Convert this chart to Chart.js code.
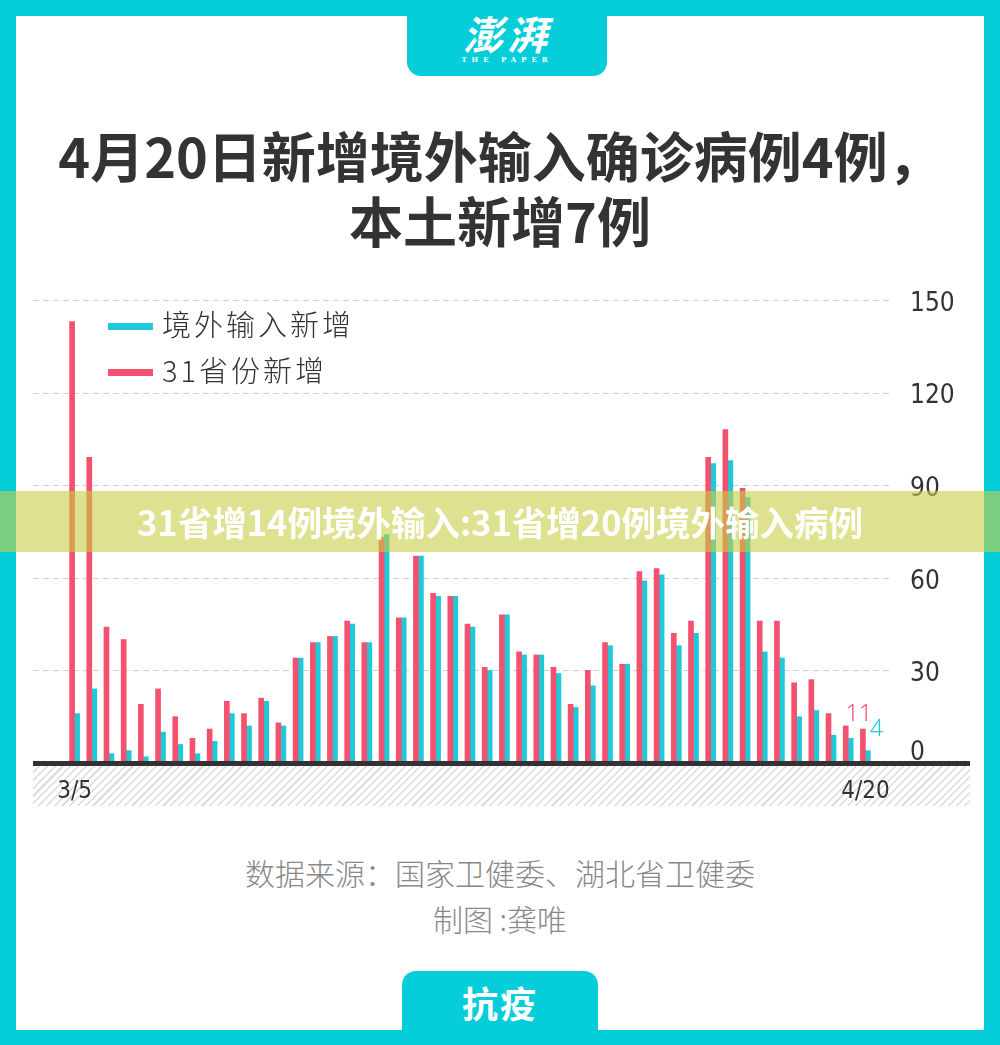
<!DOCTYPE html>
<html>
<head>
<meta charset="utf-8">
<script src="https://cdn.jsdelivr.net/npm/chart.js@4.4.1/dist/chart.umd.min.js"></script>
<style>
  body { margin:0; width:1000px; height:1045px; background:#05cdd9; position:relative; overflow:hidden; font-family:"Noto Sans CJK SC", sans-serif; }
  .card { position:absolute; left:16px; top:16px; width:968px; height:1014px; background:#fff; }
  .tabTop { position:absolute; left:407px; top:0; width:200px; height:76px; background:#05cdd9; border-radius:0 0 14px 14px; color:#fff; text-align:center; }
  .tabTop .logo { font-size:40px; font-weight:700; font-style:italic; line-height:46px; margin-top:10px; letter-spacing:4px; }
  .tabTop .sub { font-size:7px; font-weight:700; letter-spacing:5px; font-family:"DejaVu Serif", serif; line-height:8px; }
  .tabBot { position:absolute; left:402px; top:971px; width:196px; height:80px; background:#05cdd9; border-radius:14px 14px 0 0; color:#fff; text-align:center; font-size:36px; font-weight:700; line-height:62px; letter-spacing:2px; }
  .title { position:absolute; left:0; width:1000px; text-align:center; color:#333; font-weight:700; font-size:54px; line-height:64px; }
  .legend { position:absolute; left:108px; font-size:29px; font-weight:300; color:#333; letter-spacing:3px; line-height:34px; z-index:4; }
  .legend i { display:inline-block; width:45px; height:7px; vertical-align:middle; margin-right:9px; position:relative; top:-2px; }
  .hatch { position:absolute; left:33px; top:766px; width:937px; height:40px;
    background:repeating-linear-gradient(135deg, #fff 0px, #fff 4px, #dcdcdc 4px, #dcdcdc 5.5px); }
  .baseline { position:absolute; left:33px; top:761px; width:937px; height:5px; background:#333; z-index:3; }
  #wrap { position:absolute; left:33px; top:290px; width:937px; height:518px; z-index:2; }
  .foot { position:absolute; left:0; width:1000px; text-align:center; color:#888; font-size:30px; font-weight:300; }
  .banner { position:absolute; left:0; top:491px; width:1000px; height:61px; background:rgba(200,205,70,0.6); z-index:5; color:#fff; font-weight:700; font-size:34.5px; line-height:61px; text-align:center; }
</style>
</head>
<body>
<div class="card"></div>
<div class="tabTop"><div class="logo">澎湃</div><div class="sub">THE PAPER</div></div>
<div class="title" style="top:123px;">4月20日新增境外输入确诊病例4例，</div>
<div class="title" style="top:188px;">本土新增7例</div>
<div class="hatch"></div>
<div class="baseline"></div>
<div id="wrap"><canvas id="myChart"></canvas></div>
<div class="legend" style="top:306px;"><i style="background:#1ecad8"></i>境外输入新增</div>
<div class="legend" style="top:352px;"><i style="background:#f2516f"></i>31省份新增</div>
<div class="foot" style="top:850px;">数据来源：国家卫健委、湖北省卫健委</div>
<div class="foot" style="top:896px;">制图 :龚唯</div>
<div class="tabBot">抗疫</div>
<div class="banner">31省增14例境外输入:31省增20例境外输入病例</div>

<script>
const dates = ['3/5','3/6','3/7','3/8','3/9','3/10','3/11','3/12','3/13','3/14','3/15','3/16','3/17','3/18','3/19','3/20',
  '3/21','3/22','3/23','3/24','3/25','3/26','3/27','3/28','3/29','3/30','3/31','4/1','4/2','4/3','4/4','4/5','4/6','4/7',
  '4/8','4/9','4/10','4/11','4/12','4/13','4/14','4/15','4/16','4/17','4/18','4/19','4/20']

const totalNew = [143,99,44,40,19,24,15,8,11,20,16,21,13,34,39,41,46,39,73,47,67,55,54,45,31,48,36,35,31,19,30,39,32,62,63,42,46,99,108,89,46,46,26,27,16,12,11]
const importedNew = [16,24,3,4,2,10,6,3,7,16,12,20,12,34,39,41,45,39,74,47,67,54,54,44,30,48,35,35,29,18,25,38,32,59,61,38,42,97,98,86,36,34,15,17,9,8,4]

const yTicks = [0,30,60,90,120,150]

const red = '#f2516f'
const cyan = '#1ecad8'
const axisFont = "'DejaVu Sans Condensed', 'Liberation Sans Narrow', sans-serif"

// dashed grid a bit wider than the bars, and right-hand value labels
const gridAndTicks = {
  id: 'gridAndTicks',
  beforeDatasetsDraw(chart) {
    const c = chart.ctx
    const a = chart.chartArea
    const y = chart.scales.y
    c.save()
    c.strokeStyle = '#cfcfcf'
    c.lineWidth = 1
    c.setLineDash([6, 4])
    yTicks.forEach(v => {
      const py = Math.round(y.getPixelForValue(v)) + 0.5
      c.beginPath()
      c.moveTo(0, py)
      c.lineTo(a.right + 16, py)
      c.stroke()
    })
    c.setLineDash([])
    c.fillStyle = '#333'
    c.font = "26px " + axisFont
    c.textAlign = 'left'
    c.textBaseline = 'middle'
    yTicks.forEach(v => {
      const py = y.getPixelForValue(v)
      c.fillText(String(v), a.right + 36, v === 0 ? py - 10 : py + 4)
    })
    c.restore()
  }
}

// last-day value labels (11 / 4)
const lastLabels = {
  id: 'lastLabels',
  afterDatasetsDraw(chart) {
    const c = chart.ctx
    const last = dates.length - 1
    const r = chart.getDatasetMeta(0).data[last]
    const b = chart.getDatasetMeta(1).data[last]
    c.save()
    c.font = "300 23px 'Noto Sans', sans-serif"
    c.fillStyle = red
    c.textAlign = 'center'
    c.textBaseline = 'bottom'
    c.fillText(String(totalNew[last]), r.x - 4, r.y - 3)
    c.fillStyle = cyan
    c.textAlign = 'left'
    c.textBaseline = 'middle'
    c.fillText(String(importedNew[last]), b.x + 2, b.y - 21)
    c.restore()
  }
}

const ctx = document.getElementById('myChart')

new Chart(ctx, {
  type: 'bar',
  data: {
    labels: dates,
    datasets: [{
      label: '31省份新增',
      data: totalNew,
      backgroundColor: red,
      barThickness: 5
    }, {
      label: '境外输入新增',
      data: importedNew,
      backgroundColor: cyan,
      barThickness: 5
    }]
  },
  options: {
    responsive: true,
    maintainAspectRatio: false,
    animation: false,
    layout: { padding: { top: 10, left: 33, right: 0, bottom: 0 } },
    plugins: { legend: { display: false }, tooltip: { enabled: false } },
    scales: {
      x: {
        grid: { display: false, drawTicks: false },
        border: { display: false },
        afterFit: s => { s.height = 45 },
        ticks: {
          autoSkip: false,
          maxRotation: 0,
          padding: 14,
          color: '#333',
          font: { family: axisFont, size: 24 },
          callback: (v, i) => (i === 0 || i === dates.length - 1) ? dates[i] : ''
        }
      },
      y: {
        position: 'right',
        min: 0,
        max: 150,
        afterFit: s => { s.width = 96 },
        grid: { display: false, drawTicks: false },
        border: { display: false },
        ticks: { display: false, stepSize: 30 }
      }
    }
  },
  plugins: [gridAndTicks, lastLabels]
})
</script>
</body>
</html>
